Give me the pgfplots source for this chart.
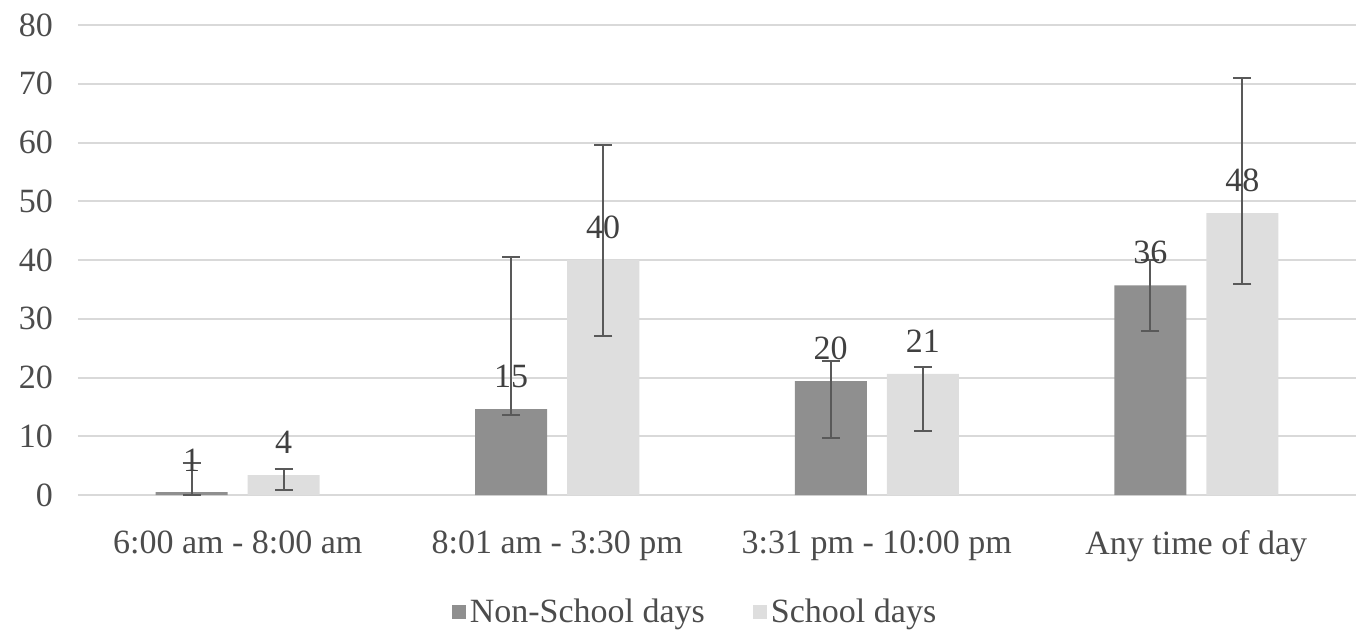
\documentclass[border=0pt]{standalone}
\usepackage{pgfplots}
\usepackage{pgfplotstable}
\usepackage{fontspec}
\setmainfont{Liberation Serif}
\pgfplotsset{compat=1.18}
\definecolor{nsd}{HTML}{8F8F8F}
\definecolor{sd}{HTML}{DEDEDE}
\definecolor{errc}{HTML}{595959}
\definecolor{gridc}{HTML}{D9D9D9}
\pgfplotstableread{
x y ep em lab
0 0.5 4.9 0.5 1
1 14.6 25.9 1.0 15
2 19.4 3.4 9.7 20
3 35.7 4.3 7.8 36
}\nsdtab
\pgfplotstableread{
x y ep em lab
0 3.4 1.0 2.5 4
1 40.0 19.6 12.9 40
2 20.6 1.2 9.7 21
3 48.0 23.0 12.1 48
}\sdtab
\begin{document}
\begin{tikzpicture}
\useasboundingbox (-39pt,-69pt) rectangle (641pt,247.5pt);
\begin{axis}[
  at={(0,0)}, anchor=south west,
  scale only axis, width=639pt, height=235pt,
  xmin=-0.5, xmax=3.5, ymin=0, ymax=80,
  ytick={0,10,...,80},
  xtick={0,1,2,3},
  xticklabels={6:00 am - 8:00 am, 8:01 am - 3:30 pm, 3:31 pm - 10:00 pm, Any time of day},
  axis line style={draw=none},
  tick style={draw=none},
  ymajorgrids, grid style={gridc, line width=1pt},
  ticklabel style={font=\fontsize{17}{20}\selectfont, text=black!70},
  /pgf/number format/assume math mode=true,
  xticklabel style={yshift=-10pt},
  yticklabel style={xshift=-9pt},
  ybar, bar width=36pt,
  legend style={draw=none, fill=none, at={(axis description cs:0.4836,-0.249)}, anchor=center,
    legend columns=2, font=\fontsize{17}{20}\selectfont, text=black!70,
    /tikz/every even column/.append style={column sep=22pt}},
  legend image code/.code={\fill[#1] (0pt,-3.5pt) rectangle (7pt,3.5pt);},
  nodes near coords={\pgfplotspointmeta},
  point meta=explicit symbolic,
  every node near coord/.append style={font=\fontsize{17}{20}\selectfont, text=black!75, yshift=7pt},
  error bars/y dir=both, error bars/y explicit,
  error bars/error bar style={errc, line width=1pt},
  error bars/error mark options={rotate=90, errc, mark size=4.5pt, line width=1pt},
]
\addplot[fill=nsd, draw=none, bar shift=-23pt] table[x=x, y=y, y error plus=ep, y error minus=em, meta=lab] {\nsdtab};
\addplot[fill=sd, draw=none, bar shift=23pt] table[x=x, y=y, y error plus=ep, y error minus=em, meta=lab] {\sdtab};
\legend{Non-School days, School days}
\end{axis}
\end{tikzpicture}
\end{document}
